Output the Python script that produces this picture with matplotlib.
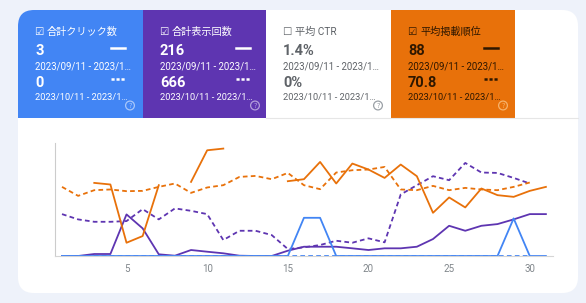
import numpy as np
import matplotlib.pyplot as plt
from matplotlib.patches import FancyBboxPatch, Rectangle, Circle
from matplotlib.lines import Line2D

plt.rcParams['font.family'] = ['Roboto', 'Noto Sans CJK JP', 'DejaVu Sans']

# Days of the two compared periods
days_p1 = np.arange(1, 32)
days_p2 = np.arange(1, 31)

# Plotted heights (chart is normalised per metric, 0 = baseline)
clicks_p1 = [0, 0, 0, 0, 0, 0, 0, 0, 0, 0, 0, 0, 0, 0, 0, 38.3, 38.3, 0, 0, 0,
             0, 0, 0, 0, 0, 0, 0, 0, 37.7, 0, 0]
clicks_p2 = [0] * 30
impr_p1 = [0, 0, 2, 2, 41.7, 27.7, 1.7, 0.3, 6, 4.3, 2.7, 0.3, 0, 0, 5.3, 9.3,
           9.3, 9.3, 7.7, 6, 7.7, 7.7, 9.3, 17, 30.3, 25.3, 30.3, 32, 36.7, 42, 42]
impr_p2 = [42, 36.7, 34.3, 34.3, 35, 47, 36.7, 47.7, 45.3, 42, 16, 25.3, 25.3,
           21, 7, 8.7, 11, 15.3, 13.3, 17.7, 13.7, 61.7, 71, 80, 76, 93.3, 83.7,
           83.3, 78.3, 72.7]
pos_p1 = [np.nan, np.nan, 73.3, 71.7, 13.3, 20, 71, np.nan, 74.3, 106, 107.7,
          np.nan, np.nan, np.nan, 75, 77, 94.3, 72.7, 92.7, 86.7, 78.3, 91.7, 80,
          43.3, 58.7, 48.7, 67.7, 61, 59.3, 65.3, 69.3]
pos_p2 = [69.3, 60.3, 66, 66.7, 65, 65.3, 69.3, 72.7, 63.3, 68.7, 71, 79.3, 80.3,
          77, 83.3, 71, 67, 83.7, 86, 86.7, 89.3, 66.7, 66, 70.3, 66, 68.3, 66.7,
          66, 69.3, 73.7]
x_ticks = [5, 10, 15, 20, 25, 30]

# Metric tiles
tile_titles = ['合計クリック数', '合計表示回数', '平均 CTR', '平均掲載順位']
tile_val1 = ['3', '216', '1.4%', '88']
tile_val2 = ['0', '666', '0%', '70.8']
tile_checked = [True, True, False, True]
date1 = '2023/09/11 - 2023/1…'
date2 = '2023/10/11 - 2023/1…'

BLUE = '#4285f4'
PURPLE = '#5e35b1'
ORANGE = '#e8710a'
tile_bg = [BLUE, PURPLE, 'white', ORANGE]
tile_fg = ['white', 'white', '#5f6368', '#2e1700']

fig = plt.figure(figsize=(5.86, 3.03), dpi=100)
fig.patch.set_facecolor('#eef2fa')

bg = fig.add_axes([0, 0, 1, 1])
bg.set_xlim(0, 586)
bg.set_ylim(303, 0)
bg.axis('off')

# white card
bg.add_patch(FancyBboxPatch((18, 10), 560, 283, boxstyle='round,pad=0,rounding_size=16',
                            fc='white', ec='none'))
bg.plot([266, 578], [118, 118], color='#e6e6e6', lw=0.8)

tile_x = [18, 143, 266, 391]
tile_w = 124
for i in range(4):
    x0 = tile_x[i]
    w = 125 if i == 0 else tile_w
    if i == 0:
        bg.add_patch(FancyBboxPatch((x0, 10), w, 108, boxstyle='round,pad=0,rounding_size=16',
                                    fc=tile_bg[i], ec='none'))
        bg.add_patch(Rectangle((x0 + 16, 10), w - 16, 108, fc=tile_bg[i], ec='none'))
        bg.add_patch(Rectangle((x0, 26), w, 92, fc=tile_bg[i], ec='none'))
    else:
        bg.add_patch(Rectangle((x0, 10), w, 108, fc=tile_bg[i], ec='none'))
    fg = tile_fg[i]
    tx = x0 + 17
    box = '☑' if tile_checked[i] else '☐'
    bg.text(tx - 1, 32, box, family='DejaVu Sans', fontsize=7.5, color=fg, va='center')
    bg.text(tx + 12, 32, tile_titles[i], fontsize=7.3, color=fg, va='center')
    bg.text(tx, 51, tile_val1[i], fontsize=10.5, fontweight='bold', color=fg, va='center')
    bg.text(tx, 66, date1, fontsize=6.9, color=fg, va='center')
    bg.text(tx, 83, tile_val2[i], fontsize=10.5, fontweight='bold', color=fg, va='center')
    bg.text(tx, 98, date2, fontsize=6.7, color=fg, va='center')
    if tile_checked[i]:
        bg.add_line(Line2D([x0 + 93, x0 + 107], [48, 48], color=fg, lw=1.8))
        bg.add_line(Line2D([x0 + 93, x0 + 107], [78.5, 78.5], color=fg, lw=1.8,
                           linestyle=(0, (1.25, 0.75))))
    hc = {0: '#a8c7fa', 1: '#b39ddb', 2: '#9aa0a6', 3: '#f6b26b'}[i]
    bg.add_patch(Circle((x0 + 112, 105.5), 4.4, fc='none', ec=hc, lw=0.9))
    bg.text(x0 + 112, 106, '?', family='DejaVu Sans', fontsize=4.8, color=hc,
            ha='center', va='center')

# chart
ax = fig.add_axes([55 / 586, 47 / 303, 498 / 586, 113 / 303])
ax.set_facecolor('none')
ax.set_xlim(0.566, 31.44)
ax.set_ylim(0, 113.3)

dash = (0, (2.6, 1.8))
ax.plot(days_p2, impr_p2, color=PURPLE, lw=1.3, linestyle=dash)
ax.plot(days_p1, impr_p1, color=PURPLE, lw=1.3)
ax.plot(days_p2, pos_p2, color=ORANGE, lw=1.3, linestyle=dash)
ax.plot(days_p1, pos_p1, color=ORANGE, lw=1.3)
ax.plot(days_p1, clicks_p1, color=BLUE, lw=1.3, clip_on=False)
ax.plot(days_p2, clicks_p2, color=BLUE, lw=1.3, linestyle=dash, clip_on=False)

for s in ['top', 'right']:
    ax.spines[s].set_visible(False)
ax.spines['left'].set_color('#cccccc')
ax.spines['bottom'].set_color('#d5d5d5')
ax.set_yticks([])
ax.set_xticks(x_ticks)
ax.tick_params(axis='x', length=0, pad=6, labelsize=7, labelcolor='#80868b')

fig.savefig('out.png', dpi=100)
